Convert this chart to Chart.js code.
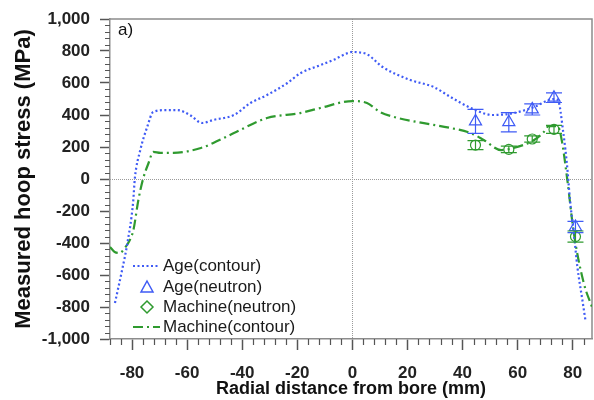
<!DOCTYPE html>
<html>
<head>
<meta charset="utf-8">
<script src="https://cdn.jsdelivr.net/npm/chart.js@4"></script>
<style>
html,body{margin:0;padding:0;background:#fff;}
#wrap{width:594px;height:400px;}
</style>
</head>
<body>
<div id="wrap"><canvas id="c" width="594" height="400"></canvas></div>
<script>
// ---- data ----
const ageContourX = [-86.2,-83.5,-81.8,-79.6,-79,-77,-74.5,-72.3,-67.3,-63.6,-59,-54.5,-50.5,-43,-37,-31,-23.6,-19,-11.6,-6.9,-2,0,2,5.3,11,21,29.5,35.6,43,51,58.5,66,73,74.6,76.6,78,79,80.4,81.7,83.5,84.6];
const ageContourY = [-775,-560,-412,-144,0,181,325,419,431,431,400,350,369,400,475,525,600,660,712,744,785,794,792,780,700,619,575,513,444,400,412,450,500,494,287,75,-131,-337,-550,-756,-881];

const machContourX = [-88,-86.3,-84.5,-82.6,-80.8,-79.5,-77.7,-76,-74,-72.3,-69.7,-65,-55,-50.5,-43,-31,-19,-11.6,0,5.3,10,15,23.6,35.6,43,47.7,54,58.5,66,69.5,71.3,74.5,76,78,80.4,84,87];
const machContourY = [-425,-456,-462,-431,-381,-319,-131,0,100,169,163,163,194,225,287,381,412,444,487,475,419,388,356,319,287,244,181,194,244,294,331,331,244,0,-337,-650,-800];

const ageNeutronX = [44.7,56.8,65.3,73.2,81];
const ageNeutronY = [360,355,435,508,-300];
const ageNeutronErr = [75,60,35,30,35];

const machNeutronX = [44.7,56.8,65.3,73.2,81];
const machNeutronY = [212,185,250,310,-360];
const machNeutronErr = [28,20,20,25,35];

const seriesLabels = ['Age(contour)','Age(neutron)','Machine(neutron)','Machine(contour)'];
const xTickValues = [-80,-60,-40,-20,0,20,40,60,80];
const yTickValues = [-1000,-800,-600,-400,-200,0,200,400,600,800,1000];
const panelLabel = 'a)';
const xTitle = 'Radial distance from bore (mm)';
const yTitle = 'Measured hoop stress (MPa)';

const BLUE = '#3f5bf5';
const GREEN = '#2f9a2f';
const FONT = '"Liberation Sans", Arial, sans-serif';

const pts = (xs, ys) => xs.map((x, i) => ({x: x, y: ys[i]}));

const helpers = {
  id: 'helpers',
  beforeDatasetsDraw(chart) {
    const {ctx, chartArea: a, scales: {x, y}} = chart;
    ctx.save();
    ctx.strokeStyle = '#9a9a9a';
    ctx.lineWidth = 1;
    ctx.setLineDash([1, 1]);
    const x0 = Math.round(x.getPixelForValue(0)) + 0.5;
    const y0 = Math.round(y.getPixelForValue(0)) + 0.5;
    ctx.beginPath();
    ctx.moveTo(x0, a.top); ctx.lineTo(x0, a.bottom);
    ctx.moveTo(a.left, y0); ctx.lineTo(a.right, y0);
    ctx.stroke();
    ctx.setLineDash([]);
    // frame top/right
    ctx.strokeStyle = '#8c8c8c';
    ctx.lineWidth = 1.5;
    ctx.beginPath();
    ctx.moveTo(a.left, a.top); ctx.lineTo(a.right, a.top); ctx.lineTo(a.right, a.bottom);
    ctx.stroke();
    // minor ticks
    ctx.strokeStyle = '#555';
    ctx.lineWidth = 1.2;
    ctx.beginPath();
    for (let v = -88; v <= 86; v += 4) {
      if (v % 20 === 0) continue;
      const px = Math.round(x.getPixelForValue(v)) + 0.5;
      ctx.moveTo(px, a.bottom); ctx.lineTo(px, a.bottom + 6);
    }
    for (let v = -1000; v <= 1000; v += 40) {
      if (v % 200 === 0) continue;
      const py = Math.round(y.getPixelForValue(v)) + 0.5;
      ctx.moveTo(a.left - 5, py); ctx.lineTo(a.left, py);
    }
    ctx.stroke();
    ctx.restore();
  },
  afterDatasetsDraw(chart) {
    const {ctx, scales: {x, y}} = chart;
    ctx.save();
    const bars = [[ageNeutronX, ageNeutronY, ageNeutronErr, BLUE], [machNeutronX, machNeutronY, machNeutronErr, GREEN]];
    ctx.lineWidth = 1.2;
    bars.forEach(([xs, ys, es, col]) => {
      ctx.strokeStyle = col;
      ctx.beginPath();
      xs.forEach((xv, i) => {
        const px = x.getPixelForValue(xv);
        const t = y.getPixelForValue(ys[i] + es[i]);
        const b = y.getPixelForValue(ys[i] - es[i]);
        ctx.moveTo(px, t); ctx.lineTo(px, b);
        ctx.moveTo(px - 8, t); ctx.lineTo(px + 8, t);
        ctx.moveTo(px - 8, b); ctx.lineTo(px + 8, b);
      });
      ctx.stroke();
    });
    ctx.restore();
  },
  afterDraw(chart) {
    const {ctx, chartArea: a} = chart;
    ctx.save();
    ctx.fillStyle = '#111';
    ctx.font = '17px ' + FONT;
    ctx.textBaseline = 'middle';
    ctx.textAlign = 'left';
    ctx.fillText(panelLabel, a.left + 8, a.top + 11);
    // legend
    const lx = 133, tx = 163;
    const rows = [266, 287, 307, 327];
    const ds = chart.data.datasets;
    const order = [0, 1, 2, 3];
    order.forEach((di, r) => {
      const d = ds[di];
      const cy = rows[r];
      ctx.save();
      if (d.showLine) {
        ctx.strokeStyle = d.borderColor;
        ctx.lineWidth = 2;
        ctx.setLineDash(d.borderDash || []);
        ctx.beginPath();
        ctx.moveTo(lx, cy); ctx.lineTo(lx + 27, cy);
        ctx.stroke();
      } else {
        ctx.strokeStyle = d.borderColor;
        ctx.lineWidth = 1.5;
        ctx.beginPath();
        const cx = lx + 14;
        if (d.pointStyle === 'triangle') {
          ctx.moveTo(cx, cy - 6); ctx.lineTo(cx + 6, cy + 5); ctx.lineTo(cx - 6, cy + 5); ctx.closePath();
        } else {
          ctx.moveTo(cx, cy - 6); ctx.lineTo(cx + 6, cy); ctx.lineTo(cx, cy + 6); ctx.lineTo(cx - 6, cy); ctx.closePath();
        }
        ctx.stroke();
      }
      ctx.restore();
      ctx.fillStyle = '#1a1a1a';
      ctx.font = '17px ' + FONT;
      ctx.fillText(d.label, tx, cy);
    });
    ctx.restore();
  }
};

new Chart(document.getElementById('c'), {
  type: 'scatter',
  data: {
    datasets: [
      {label: seriesLabels[0], type: 'line', data: pts(ageContourX, ageContourY), showLine: true,
       borderColor: BLUE, borderWidth: 2.2, borderDash: [2, 2.5], pointRadius: 0, fill: false,
       cubicInterpolationMode: 'monotone'},
      {label: seriesLabels[1], data: pts(ageNeutronX, ageNeutronY), showLine: false,
       pointStyle: 'triangle', pointRadius: 7, borderColor: BLUE, backgroundColor: 'rgba(0,0,0,0)', borderWidth: 1.2},
      {label: seriesLabels[2], data: pts(machNeutronX, machNeutronY), showLine: false,
       pointStyle: 'circle', pointRadius: 5, borderColor: GREEN, backgroundColor: 'rgba(0,0,0,0)', borderWidth: 1.2},
      {label: seriesLabels[3], type: 'line', data: pts(machContourX, machContourY), showLine: true,
       borderColor: GREEN, borderWidth: 2.2, borderDash: [10, 4, 2, 4], pointRadius: 0, fill: false,
       cubicInterpolationMode: 'monotone'}
    ]
  },
  options: {
    responsive: false,
    animation: false,
    devicePixelRatio: 1,
    layout: {autoPadding: false, padding: {top: 19, right: 2, left: 0, bottom: 0}},
    plugins: {legend: {display: false}, tooltip: {enabled: false}},
    scales: {
      x: {
        type: 'linear', min: -88, max: 87,
        afterBuildTicks: s => { s.ticks = xTickValues.map(v => ({value: v})); },
        afterFit: s => { s.height = 61; s.paddingLeft = 0; s.paddingRight = 0; },
        ticks: {callback: v => String(v), color: '#222', padding: 13, maxRotation: 0,
                font: {family: FONT, size: 17, weight: 'bold'}},
        grid: {display: true, drawOnChartArea: false, drawTicks: true, tickLength: 11, tickColor: '#555', tickWidth: 1.5},
        border: {display: true, color: '#8c8c8c', width: 1.5},
        title: {display: true, text: xTitle, color: '#111', padding: {top: 0, bottom: 0},
                font: {family: FONT, size: 18, weight: 'bold'}}
      },
      y: {
        type: 'linear', min: -1000, max: 1000,
        afterBuildTicks: s => { s.ticks = yTickValues.map(v => ({value: v})); },
        afterFit: s => { s.width = 110; s.paddingTop = 0; s.paddingBottom = 0; },
        ticks: {callback: v => v.toLocaleString('en-US'), color: '#222', padding: 10,
                font: {family: FONT, size: 17, weight: 'bold'}},
        grid: {display: true, drawOnChartArea: false, drawTicks: true, tickLength: 10, tickColor: '#555', tickWidth: 1.5},
        border: {display: true, color: '#8c8c8c', width: 1.5},
        title: {display: true, text: yTitle, color: '#111', padding: {top: 11, bottom: 0},
                font: {family: FONT, size: 22, weight: 'bold'}}
      }
    }
  },
  plugins: [helpers]
});
</script>
</body>
</html>
